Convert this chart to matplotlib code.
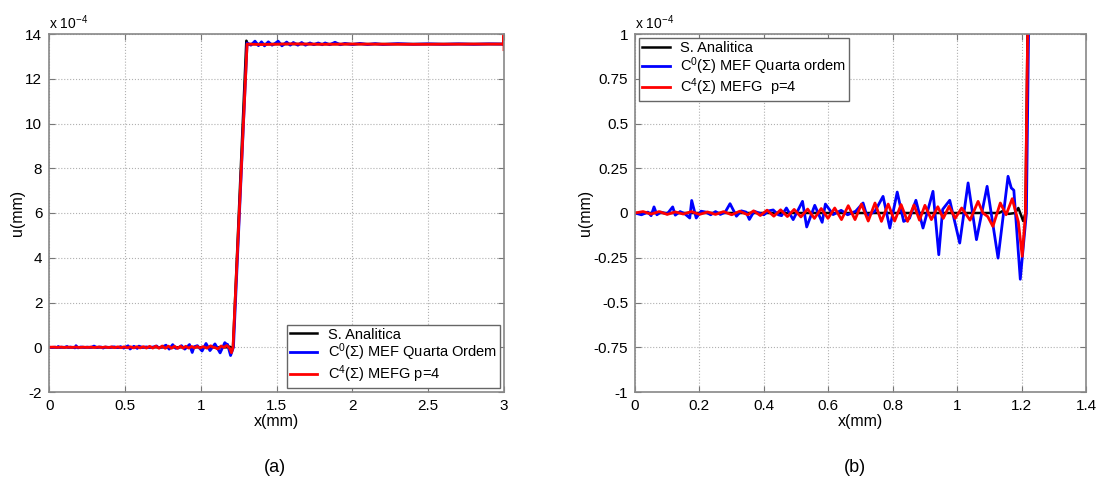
import numpy as np
import matplotlib
matplotlib.use("Agg")
import matplotlib.pyplot as plt

plt.rcParams['font.family'] = ['Liberation Sans', 'DejaVu Sans']
plt.rcParams['mathtext.fontset'] = 'custom'
plt.rcParams['mathtext.rm'] = 'Liberation Sans'
plt.rcParams['mathtext.it'] = 'Liberation Sans:italic'

# values in units of 1e-4 mm
# analytic solution
x_ana = [0.0, 1.13, 1.14, 1.16, 1.18, 1.19, 1.205, 1.212, 1.30, 1.31, 3.0]
u_ana = [0.0, 0.0, 0.01, -0.005, 0.0, 0.028, -0.045, 0.0, 13.7, 13.55, 13.55]

# C0 FEM, fourth order
x_fem = [0.0, 0.02, 0.04, 0.05, 0.059, 0.068, 0.08, 0.10, 0.117, 0.125,
         0.14, 0.155, 0.17, 0.176, 0.19, 0.205, 0.22, 0.235, 0.25, 0.265,
         0.28, 0.295, 0.315, 0.33, 0.345, 0.355, 0.37, 0.385, 0.40, 0.415,
         0.429, 0.445, 0.455, 0.470, 0.491, 0.520, 0.533, 0.558, 0.581, 0.591,
         0.615, 0.64, 0.66, 0.685, 0.708, 0.72, 0.745, 0.770, 0.791, 0.814,
         0.834, 0.852, 0.872, 0.894, 0.925, 0.943, 0.955, 0.977, 1.008, 1.034,
         1.060, 1.093, 1.127, 1.158, 1.168, 1.176, 1.196, 1.215,
         1.305, 1.33, 1.357, 1.38, 1.40, 1.42, 1.445, 1.47, 1.49, 1.51,
         1.535, 1.566, 1.59, 1.61, 1.64, 1.665, 1.69, 1.72, 1.745, 1.775,
         1.80, 1.82, 1.85, 1.885, 1.92, 1.95, 2.0, 2.05, 2.1, 2.15,
         2.2, 2.3, 2.4, 2.5, 2.6, 2.7, 2.8, 2.9, 3.0]
u_fem = [0.0, -0.01, 0.005, -0.015, 0.034, -0.01, 0.005, -0.005, 0.034, -0.012,
         0.008, -0.005, -0.028, 0.07, -0.028, 0.01, 0.005, -0.01, 0.008, -0.008,
         0.005, 0.052, -0.018, 0.012, 0.005, -0.036, 0.01, 0.0, -0.01, 0.012,
         0.017, -0.01, -0.015, 0.028, -0.037, 0.065, -0.078, 0.043, -0.052, 0.05,
         -0.009, 0.015, -0.01, 0.01, 0.056, -0.017, 0.01, 0.093, -0.084, 0.117,
         -0.047, -0.03, 0.071, -0.084, 0.121, -0.233, 0.02, 0.071, -0.168, 0.168,
         -0.149, 0.149, -0.252, 0.205, 0.14, 0.127, -0.37, 0.0,
         13.6, 13.5, 13.68, 13.48, 13.65, 13.47, 13.65, 13.5, 13.58, 13.68,
         13.47, 13.64, 13.5, 13.62, 13.5, 13.62, 13.5, 13.6, 13.52, 13.6,
         13.52, 13.6, 13.52, 13.63, 13.52, 13.58, 13.53, 13.58, 13.53, 13.57,
         13.53, 13.57, 13.54, 13.56, 13.54, 13.56, 13.54, 13.56, 13.55]

# C4 GFEM, p=4
x_gfem = [0.0, 0.025, 0.05, 0.075, 0.10, 0.125, 0.15, 0.175, 0.20, 0.225,
          0.25, 0.275, 0.30, 0.325, 0.35, 0.368, 0.389, 0.41, 0.431, 0.452,
          0.473, 0.494, 0.515, 0.536, 0.557, 0.578, 0.599, 0.62, 0.641, 0.662,
          0.683, 0.703, 0.724, 0.745, 0.765, 0.786, 0.806, 0.826, 0.846, 0.866,
          0.883, 0.90, 0.92, 0.94, 0.957, 0.975, 0.994, 1.014, 1.040, 1.065,
          1.08, 1.095, 1.111, 1.134, 1.152, 1.171, 1.19, 1.202, 1.212,
          1.305, 1.4, 1.6, 1.8, 2.0, 2.4, 2.8, 2.995, 3.0, 3.0]
u_gfem = [0.0, 0.008, -0.006, 0.008, -0.008, 0.006, -0.006, 0.008, -0.008, 0.006,
          -0.008, 0.008, -0.01, 0.01, -0.01, 0.012, -0.014, 0.016, -0.018, 0.018,
          -0.02, 0.02, -0.022, 0.022, -0.03, 0.025, -0.03, 0.028, -0.037, 0.041,
          -0.037, 0.05, -0.045, 0.056, -0.047, 0.05, -0.045, 0.047, -0.047, 0.045,
          -0.04, 0.043, -0.037, 0.035, -0.03, 0.037, -0.03, 0.028, -0.04, 0.065,
          0.0, -0.02, -0.075, 0.056, -0.01, 0.08, -0.05, -0.242, 0.0,
          13.55, 13.53, 13.56, 13.54, 13.55, 13.54, 13.55, 13.55, 14.0, 13.3]

lbl_a = ['S. Analitica', 'C$^0$(Σ) MEF Quarta Ordem', 'C$^4$(Σ) MEFG p=4']
lbl_b = ['S. Analitica', 'C$^0$(Σ) MEF Quarta ordem', 'C$^4$(Σ) MEFG  p=4']

xt_a = [0, 0.5, 1, 1.5, 2, 2.5, 3]
xtl_a = ['0', '0.5', '1', '1.5', '2', '2.5', '3']
yt_a = [-2, 0, 2, 4, 6, 8, 10, 12, 14]
xt_b = [0, 0.2, 0.4, 0.6, 0.8, 1.0, 1.2, 1.4]
xtl_b = ['0', '0.2', '0.4', '0.6', '0.8', '1', '1.2', '1.4']
yt_b = [-1, -0.75, -0.5, -0.25, 0, 0.25, 0.5, 0.75, 1]
ytl_b = ['-1', '-0.75', '-0.5', '-0.25', '0', '0.25', '0.5', '0.75', '1']

fig = plt.figure(figsize=(10.96, 4.84), dpi=100)
ax1 = fig.add_axes([49.3 / 1096, 92 / 484, 454.7 / 1096, 358 / 484])
ax2 = fig.add_axes([635 / 1096, 92 / 484, 451 / 1096, 358 / 484])


def style(ax, xt, xtl, yt, ytl, xlim, ylim):
    ax.set_xlim(xlim)
    ax.set_ylim(ylim)
    ax.set_xticks(xt)
    ax.set_xticklabels(xtl)
    ax.set_yticks(yt)
    ax.set_yticklabels(ytl)
    ax.tick_params(direction='in', top=True, right=True, length=4,
                   width=0.8, color='#777777', labelsize=11, pad=5)
    ax.grid(True, linestyle=':', color='#b0b0b0', linewidth=0.8)
    for s in ax.spines.values():
        s.set_color('#888888')
        s.set_linewidth(1.2)
    ax.set_xlabel('x(mm)', fontsize=11.5, labelpad=1)
    ax.set_ylabel('u(mm)', fontsize=11.5, labelpad=0)
    ax.text(0, 1.005, 'x 10$^{-4}$', transform=ax.transAxes,
            ha='left', va='bottom', fontsize=10)


for ax, lbls in [(ax1, lbl_a), (ax2, lbl_b)]:
    ax.plot(x_ana, u_ana, color='black', lw=1.8, label=lbls[0])
    ax.plot(x_fem, u_fem, color='#0000ff', lw=2.0, label=lbls[1])
    ax.plot(x_gfem, u_gfem, color='#ff0000', lw=2.0, label=lbls[2])

style(ax1, xt_a, xtl_a, yt_a, [str(v) for v in yt_a], (0, 3), (-2, 14))
style(ax2, xt_b, xtl_b, yt_b, ytl_b, (0, 1.4), (-1, 1))

leg_kw = dict(fontsize=10.5, fancybox=False, edgecolor='#666666',
              framealpha=1, handlelength=1.9, handletextpad=0.7,
              labelspacing=0.0, borderpad=0.2, borderaxespad=0.3)
l1 = ax1.legend(loc='lower right', **leg_kw)
l2 = ax2.legend(loc='upper left', **leg_kw)
for l in (l1, l2):
    l.get_frame().set_linewidth(1.0)

fig.text(275 / 1096, 1 - 467 / 484, '(a)', ha='center', va='center', fontsize=13)
fig.text(855 / 1096, 1 - 467 / 484, '(b)', ha='center', va='center', fontsize=13)

fig.savefig('out.png', dpi=100)
